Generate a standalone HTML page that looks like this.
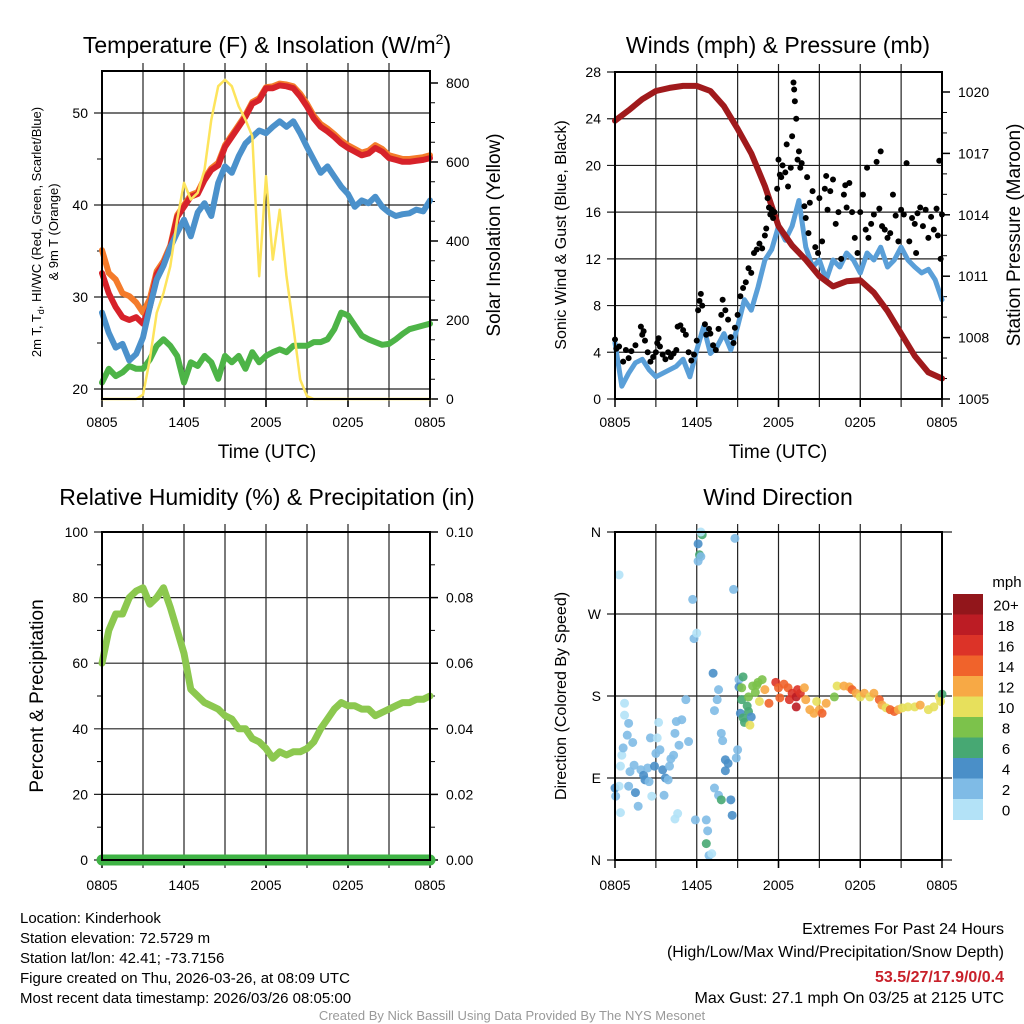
<!DOCTYPE html>
<html><head><meta charset="utf-8">
<style>
html,body{margin:0;padding:0;background:#fff;}
svg{display:block;font-family:"Liberation Sans",Arial,sans-serif;}
</style></head>
<body>
<svg id="chart" width="1024" height="1024" viewBox="0 0 1024 1024" xmlns="http://www.w3.org/2000/svg">
<rect x="0" y="0" width="1024" height="1024" fill="#fff"/>
<text x="267" y="53" font-size="23" text-anchor="middle">Temperature (F) &amp; Insolation (W/m<tspan dy="-9" font-size="14">2</tspan><tspan dy="9">)</tspan></text>
<text x="778" y="53" font-size="23" text-anchor="middle">Winds (mph) &amp; Pressure (mb)</text>
<text x="267" y="505" font-size="23" text-anchor="middle">Relative Humidity (%) &amp; Precipitation (in)</text>
<text x="778" y="505" font-size="23" text-anchor="middle">Wind Direction</text>

<text x="267" y="458" font-size="19" text-anchor="middle">Time (UTC)</text>
<text x="778" y="458" font-size="19" text-anchor="middle">Time (UTC)</text>

<text transform="translate(41,232) rotate(-90)" font-size="13" text-anchor="middle">2m T, T<tspan font-size="9" dy="3">d</tspan><tspan dy="-3">, HI/WC (Red, Green, Scarlet/Blue)</tspan></text>
<text transform="translate(58,232) rotate(-90)" font-size="13" text-anchor="middle">&amp; 9m T (Orange)</text>
<text transform="translate(500,235) rotate(-90)" font-size="19" text-anchor="middle">Solar Insolation (Yellow)</text>
<text transform="translate(566,235) rotate(-90)" font-size="16" text-anchor="middle">Sonic Wind &amp; Gust (Blue, Black)</text>
<text transform="translate(1020,235) rotate(-90)" font-size="19" text-anchor="middle">Station Pressure (Maroon)</text>
<text transform="translate(43,696) rotate(-90)" font-size="19" text-anchor="middle">Percent &amp; Precipitation</text>
<text transform="translate(566,696) rotate(-90)" font-size="16" text-anchor="middle">Direction (Colored By Speed)</text>

<g font-size="15">
<text x="20" y="923">Location: Kinderhook</text>
<text x="20" y="943">Station elevation: 72.5729 m</text>
<text x="20" y="963">Station lat/lon: 42.41; -73.7156</text>
<text x="20" y="983">Figure created on Thu, 2026-03-26, at 08:09 UTC</text>
<text x="20" y="1003">Most recent data timestamp: 2026/03/26 08:05:00</text>
</g>
<g font-size="16" text-anchor="end">
<text x="1004" y="934">Extremes For Past 24 Hours</text>
<text x="1004" y="957">(High/Low/Max Wind/Precipitation/Snow Depth)</text>
<text x="1004" y="982" fill="#c8202a" font-weight="bold">53.5/27/17.9/0/0.4</text>
<text x="1004" y="1003">Max Gust: 27.1 mph On 03/25 at 2125 UTC</text>
</g>
<text x="512" y="1020" font-size="13" fill="#999" text-anchor="middle">Created By Nick Bassill Using Data Provided By The NYS Mesonet</text>
<text x="1007" y="587" font-size="15" text-anchor="middle">mph</text>
</svg>
<script>
// ---------- data ----------
const timeLabels = ["0805","1405","2005","0205","0805"];
const tHalf = [0,0.5,1,1.5,2,2.5,3,3.5,4,4.5,5,5.5,6,6.5,7,7.5,8,8.5,9,9.5,10,10.5,11,11.5,12,12.5,13,13.5,14,14.5,15,15.5,16,16.5,17,17.5,18,18.5,19,19.5,20,20.5,21,21.5,22,22.5,23,23.5,24];
const tempRed = [32.6,30.4,28.9,27.8,27.5,27.8,27.1,28.9,32.5,33.6,35.4,38.7,39.8,40.9,41.2,42.7,43.8,44.3,46.3,47.4,48.5,49.6,51.0,51.4,52.7,52.7,53.0,52.9,52.7,51.8,50.7,49.4,48.5,48.0,47.4,46.7,46.2,45.8,45.4,45.6,46.2,45.8,45.1,44.9,44.7,44.7,44.8,44.9,45.1];
const tempOrange = [35.1,32.6,31.9,30.4,30.1,29.4,28.3,29.8,32.8,33.9,35.6,38.9,40.0,41.1,41.4,42.9,44.0,44.6,46.5,47.6,48.7,49.8,51.2,51.6,52.8,52.9,53.2,53.1,52.9,52.1,51.0,49.7,48.8,48.3,47.7,47.0,46.5,46.1,45.7,45.9,46.5,46.1,45.4,45.2,45.0,45.0,45.1,45.2,45.4];
const tempBlue = [28.3,26.1,24.5,24.9,23.1,23.8,25.6,28.9,31.9,33.4,35.4,37.0,38.4,36.6,39.2,40.2,38.8,42.4,44.2,43.5,45.3,46.7,47.4,48.1,47.8,48.5,49.1,48.5,49.1,47.8,46.3,44.9,43.5,44.2,43.1,42.0,41.2,39.8,40.5,40.2,40.9,39.8,39.2,38.8,39.0,39.1,39.5,39.3,40.5];
const dewGreen = [20.7,22.2,21.4,21.8,22.5,22.2,22.2,23.2,24.7,25.4,24.7,23.6,20.7,22.9,22.5,23.6,22.9,21.1,23.6,22.9,23.6,22.2,24.0,22.9,23.6,24.0,24.3,24.0,24.7,24.7,24.7,25.1,25.1,25.4,26.5,28.3,28.0,26.9,25.8,25.4,25.1,24.8,24.9,25.4,26.0,26.5,26.7,26.9,27.1];
const solar = [0,0,0,0,0,0,11,100,218,268,336,454,547,505,522,580,707,792,808,792,741,707,665,311,564,353,479,311,184,49,7,0,0,0,0,0,0,0,0,0,0,0,0,0,0,0,0,0,0];
const tempTicks = [20,30,40,50];
const solarTicks = [0,200,400,600,800];

const tHour = [0,1,2,3,4,5,6,7,8,9,10,11,12,13,14,15,16,17,18,19,20,21,22,23,24];
const pressure = [1018.6,1019.1,1019.65,1020.05,1020.2,1020.3,1020.3,1020.05,1019.3,1018.2,1017.0,1015.4,1013.45,1012.5,1011.8,1011.0,1010.5,1010.75,1010.8,1010.2,1009.3,1008.2,1007.1,1006.3,1006.0];
const sonicWind = [4.8,1.1,2.2,3.1,3.4,2.5,1.9,2.2,2.5,2.8,3.4,1.9,4.2,6.2,3.9,4.5,5.6,4.2,6.2,8.5,7.6,9.6,11.9,12.8,14.8,13.6,14.8,17.0,13.0,11.3,11.9,10.2,11.9,11.3,12.5,11.9,10.8,12.5,11.9,13.0,11.3,11.9,13.0,11.9,11.3,10.8,11.1,10.2,8.5];
const gustHours = [0,0.1,0.3,0.6,0.8,1,1.2,1.5,1.9,2.0,2.1,2.2,2.4,2.6,2.8,3.0,3.1,3.2,3.3,3.5,3.7,3.9,4.1,4.3,4.5,4.6,4.8,5.0,5.2,5.4,5.6,5.8,6.0,6.1,6.2,6.3,6.4,6.6,6.7,6.9,7.0,7.2,7.4,7.6,7.8,7.9,8.1,8.3,8.5,8.7,8.8,9.0,9.2,9.4,9.6,9.8,10.0,10.2,10.4,10.6,10.8,11.0,11.1,11.2,11.3,11.4,11.5,11.6,11.7,11.9,12.0,12.1,12.2,12.3,12.5,12.6,12.7,12.9,13.0,13.1,13.15,13.2,13.3,13.4,13.5,13.6,13.7,13.9,14.0,14.2,14.3,14.5,14.7,14.9,15.0,15.2,15.4,15.6,15.8,16.0,16.2,16.4,16.6,16.8,17.0,17.2,17.4,17.6,17.8,18.0,18.2,18.4,18.6,18.8,19.0,19.2,19.4,19.6,19.8,20.0,20.2,20.4,20.6,20.8,21.0,21.2,21.4,21.6,21.8,22.0,22.2,22.4,22.6,22.8,23.0,23.2,23.4,23.6,23.8,24.0,23.9,23.7,22.1,19.5,18.5,16.9,15.5,14.1];
const gustSpeeds = [5.1,4.3,4.5,3.2,4.2,3.5,4.1,4.6,6.2,5.5,5.8,5.0,4.0,3.2,3.6,4.0,4.8,5.2,4.5,3.8,3.4,4.0,3.6,3.9,4.2,6.2,6.3,5.9,5.5,4.0,3.3,3.8,5.0,7.6,8.4,9.0,8.0,6.4,5.5,6.0,5.6,4.6,4.2,6.0,7.2,8.5,7.6,6.8,5.3,4.8,6.1,7.2,8.8,9.5,10.0,11.2,10.8,12.5,12.8,13.3,12.9,14.0,14.6,17.2,16.4,15.8,16.2,15.5,16.0,18.0,20.5,19.2,19.0,20.0,19.4,21.8,18.2,19.8,22.5,27.1,26.5,25.5,24.0,20.5,21.2,19.8,20.2,16.5,15.5,14.2,16.8,17.8,13.0,12.5,17.2,13.5,18.0,16.2,17.8,18.8,15.0,16.0,12.0,17.5,16.4,18.5,16.0,13.8,12.5,16.0,17.5,14.5,13.8,15.0,15.8,20.3,16.3,14.8,14.5,13.8,14.2,17.5,15.7,13.5,16.2,15.8,20.2,13.5,15.5,15.0,15.9,16.4,14.8,16.2,13.8,15.6,14.5,16.3,20.4,15.8,12.0,14.0,12.5,21.2,19.8,18.3,19.1,19.0];
const windTicks = [0,4,8,12,16,20,24,28];
const pressureTicks = [1005,1008,1011,1014,1017,1020];

const humidity = [60,70,75,75,80,82,83,78,80,83,77,70,63,52,50,48,47,46,44,43,40,40,37,36,34,31,33,32,33,33,34,36,40,43,46,48,47,47,46,46,44,45,46,47,48,48,49,49,50];
const precip = [0,0,0,0,0,0,0,0,0,0,0,0,0,0,0,0,0,0,0,0,0,0,0,0,0];
const rhTicks = [0,20,40,60,80,100];
const precipTicks = ["0.00","0.02","0.04","0.06","0.08","0.10"];

const dirHours = [0.3,0.0,0.05,0.4,0.3,0.4,0.5,0.6,0.7,0.7,0.9,1.0,1.3,1.4,1.1,1.0,1.5,1.7,1.9,2.1,2.2,2.4,2.5,2.6,2.7,2.9,3.0,3.1,3.2,3.3,3.5,3.7,3.6,3.9,4.1,4.3,4.4,4.5,4.6,4.4,4.0,4.7,4.9,5.2,5.4,5.9,5.7,5.8,6.0,6.1,6.1,6.2,6.3,6.4,6.3,6.7,6.8,6.7,6.9,7.1,7.2,7.6,7.5,7.3,7.8,7.9,8.1,8.3,8.1,7.3,7.6,7.8,8.5,8.6,8.9,9.0,8.8,8.7,9.1,9.1,9.2,9.4,9.3,9.3,9.4,9.5,9.7,9.8,9.8,10.0,9.9,10.1,10.3,10.4,10.5,10.6,10.8,11.0,11.3,11.8,12.0,12.1,12.4,12.7,12.8,13.0,13.3,13.4,13.3,13.6,13.9,14.0,14.3,14.6,14.8,15.0,15.2,15.5,16.1,16.3,16.8,17.2,17.4,17.7,18.0,18.3,18.7,19.0,19.4,19.6,19.9,20.2,20.5,20.8,21.1,21.5,22.0,22.4,23.0,23.4,23.8,24.0,23.9];
const dirDegrees = [313,79,70,52,81,103,115,123,172,159,137,150,129,104,97,81,74,59,99,93,88,101,86,134,70,103,117,134,151,121,99,90,71,88,111,115,139,152,51,45,103,126,154,176,130,44,286,243,249,328,347,335,333,357,360,44,32,18,5,7,205,187,176,164,139,131,110,106,98,79,71,66,66,49,112,121,353,297,198,190,161,201,189,176,156,151,169,163,179,157,148,191,184,192,195,174,198,187,172,195,189,178,193,189,176,183,179,187,168,183,189,176,165,161,174,165,161,172,179,191,191,190,187,183,179,183,179,183,176,170,167,165,163,165,167,168,168,170,165,168,179,182,174];
const dirSpeeds = [1,4,3,1,1,1,1,3,1,1,2,3,3,3,2,3,4,2,3,4,4,3,3,2,1,4,2,1,1,2,4,4,2,2,3,2,2,2,1,1,2,2,2,2,3,2,2,2,1,2,4,6,2,6,1,2,2,6,2,1,4,2,2,2,2,2,4,4,4,2,2,6,4,4,2,2,2,2,2,4,4,6,8,6,6,6,6,6,8,4,10,8,8,8,8,10,8,12,14,16,14,14,14,14,16,16,18,16,18,16,12,12,12,12,10,12,14,12,8,10,12,12,14,12,10,12,10,12,14,12,10,14,14,12,10,10,10,12,10,10,10,6,10];
const dirTicks = [0,90,180,270,360];
const dirTickLabels = ["N","E","S","W","N"];
const speedLevels = ["0","2","4","6","8","10","12","14","16","18","20+"];
const speedColors = ["#b3e2f7","#7fbbe6","#4a8fc8","#47a873","#7cc24b","#e7e05c","#f7a945","#f0632b","#dc3328","#bc1c24","#92161b"];
const gridHours = [3,6,9,12,15,18,21];

// ---------- helpers ----------
const NS = "http://www.w3.org/2000/svg";
const svg = document.getElementById("chart");
function mk(tag, attrs, parent){
  const el = document.createElementNS(NS, tag);
  for (const k in attrs) el.setAttribute(k, attrs[k]);
  (parent || svg).appendChild(el);
  return el;
}
function xScale(p, h){ return p.x0 + h * (p.x1 - p.x0) / 24; }
function linY(d0, d1, py0, py1){ return v => py0 + (v - d0) * (py1 - py0) / (d1 - d0); }

const P1 = {x0:102, x1:430, y0:71, y1:399};
const P2 = {x0:615, x1:942, y0:72, y1:399};
const P3 = {x0:102, x1:430, y0:532, y1:860};
const P4 = {x0:615, x1:942, y0:532, y1:860};

const yTemp = linY(20, 50, 389, 113);
const ySolar = linY(0, 800, 399, 83);
const yWind = linY(0, 28, 399, 72);
const yPres = linY(1005, 1020, 399, 92);
const yRH = linY(0, 100, 860, 532);
const yPrec = linY(0, 0.1, 860, 532);
const yDir = linY(0, 360, 860, 532);

function frame(p, name, labelY){
  const g = mk("g", {});
  
  
  gridHours.forEach(h => {
    const x = xScale(p, h);
    const l = mk("line", {x1:x, x2:x, y1:p.y0-8, y2:p.y1+8, stroke:"#222", "stroke-width":1.2}, g);
    
    
  });
  timeLabels.forEach((lab, i) => {
    const h = i * 6;
    const x = xScale(p, h);
    const tk = mk("line", {x1:x, x2:x, y1:p.y1, y2:p.y1+8, stroke:"#000", "stroke-width":1.5}, g);
    
    
    const t = mk("text", {x:x, y:labelY, "font-size":14, "text-anchor":"middle"}, g);
    
    
    t.textContent = lab;
  });
  return g;
}
function border(p, name){
  const r = mk("rect", {x:p.x0, y:p.y0, width:p.x1-p.x0, height:p.y1-p.y0, fill:"none", stroke:"#000", "stroke-width":2});
  
  
}
function leftAxis(p, ticks, labels, sc, minorStep, name, extendRight){
  ticks.forEach((v, i) => {
    const y = sc(v);
    const l = mk("line", {x1:p.x0-8, x2:p.x1 + (extendRight||0), y1:y, y2:y, stroke:"#222", "stroke-width":1.2});
    
    
    const t = mk("text", {x:p.x0-14, y:y+5, "font-size":14, "text-anchor":"end"});
    
    
    t.textContent = labels[i];
  });
  if (minorStep) {
    for (let i = 0; i < ticks.length - 1; i++) {
      const y = sc((ticks[i] + ticks[i+1]) / 2);
      const l = mk("line", {x1:p.x0-5, x2:p.x0, y1:y, y2:y, stroke:"#000", "stroke-width":1});
      
      
    }
  }
}
function rightAxis(p, ticks, labels, sc, minorVals, name){
  ticks.forEach((v, i) => {
    const y = sc(v);
    const l = mk("line", {x1:p.x1, x2:p.x1+8, y1:y, y2:y, stroke:"#000", "stroke-width":1.5});
    
    
    const t = mk("text", {x:p.x1+16, y:y+5, "font-size":14, "text-anchor":"start"});
    
    
    t.textContent = labels[i];
  });
  minorVals.forEach(v => {
    const y = sc(v);
    const l = mk("line", {x1:p.x1, x2:p.x1+5, y1:y, y2:y, stroke:"#000", "stroke-width":1});
    
    
  });
}
function series(p, xs, ys, sc, color, width, name){
  const pts = xs.map((h, i) => xScale(p, h).toFixed(1) + "," + sc(ys[i]).toFixed(1)).join(" ");
  const pl = mk("polyline", {points:pts, fill:"none", stroke:color, "stroke-width":width, "stroke-linejoin":"round", "stroke-linecap":"round"});
  
  
  return pl;
}
function range(a, b, s){ const r=[]; for(let v=a; v<=b+1e-9; v+=s) r.push(v); return r; }

// ---------- Panel 1 ----------
frame(P1, "temperature", 427);
leftAxis(P1, tempTicks, tempTicks.map(String), yTemp, true, "temperature");
rightAxis(P1, solarTicks, solarTicks.map(String), ySolar, range(50, 750, 50).filter(v => v % 200 !== 0), "insolation");
series(P1, tHalf, dewGreen, yTemp, "#4db447", 6, "dewpoint-line");
series(P1, tHalf, tempOrange, yTemp, "#f47b2b", 6, "temperature-9m-line");
series(P1, tHalf, tempRed, yTemp, "#d7222a", 6, "temperature-2m-line");
series(P1, tHalf, tempBlue, yTemp, "#4b91cb", 6, "heat-index-wind-chill-line");
series(P1, tHalf, solar, ySolar, "#fde45c", 2.5, "solar-insolation-line");
border(P1, "temperature");

// ---------- Panel 2 ----------
frame(P2, "wind", 427);
leftAxis(P2, windTicks, windTicks.map(String), yWind, false, "wind");
rightAxis(P2, pressureTicks, pressureTicks.map(String), yPres, range(1006, 1020, 1).filter(v => (v - 1005) % 3 !== 0), "pressure");
series(P2, tHalf, sonicWind, yWind, "#5a9fd8", 5, "sonic-wind-line");
series(P2, tHour, pressure, yPres, "#a01a1c", 6, "pressure-line");
gustHours.forEach((h, i) => {
  const c = mk("circle", {cx:xScale(P2, h), cy:yWind(gustSpeeds[i]), r:3, fill:"#000"});
  
  
});
border(P2, "wind");

// ---------- Panel 3 ----------
frame(P3, "humidity", 890);
leftAxis(P3, rhTicks, rhTicks.map(String), yRH, true, "humidity");
rightAxis(P3, [0,0.02,0.04,0.06,0.08,0.1], precipTicks, yPrec, [0.01,0.03,0.05,0.07,0.09], "precipitation");
series(P3, tHalf, humidity, yRH, "#8cc84f", 7, "relative-humidity-line");
series(P3, tHour, precip, yPrec, "#3fb345", 11, "precipitation-line");
series(P3, tHour, precip, yPrec, "#2a2a2a", 1.5, "precipitation-baseline");
border(P3, "humidity");

// ---------- Panel 4 ----------
frame(P4, "direction", 890);
leftAxis(P4, dirTicks, dirTickLabels, yDir, false, "direction", 10);
dirHours.forEach((h, i) => {
  const idx = Math.min(10, Math.floor(dirSpeeds[i] / 2));
  const c = mk("circle", {cx:xScale(P4, h), cy:yDir(dirDegrees[i]), r:4.5, fill:speedColors[idx], "fill-opacity":0.9});
  
  
});
border(P4, "direction");

// colorbar
const cbTop = 594, cbH = 20.5;
speedLevels.forEach((lab, i) => {
  const k = speedLevels.length - 1 - i;
  const y = cbTop + i * cbH;
  const r = mk("rect", {x:953, y:y, width:30, height:cbH+0.5, fill:speedColors[k]});
  
  
  const t = mk("text", {x:1006, y:y + cbH/2 + 6, "font-size":15, "text-anchor":"middle"});
  
  
  t.textContent = speedLevels[k];
});
</script>
</body></html>
